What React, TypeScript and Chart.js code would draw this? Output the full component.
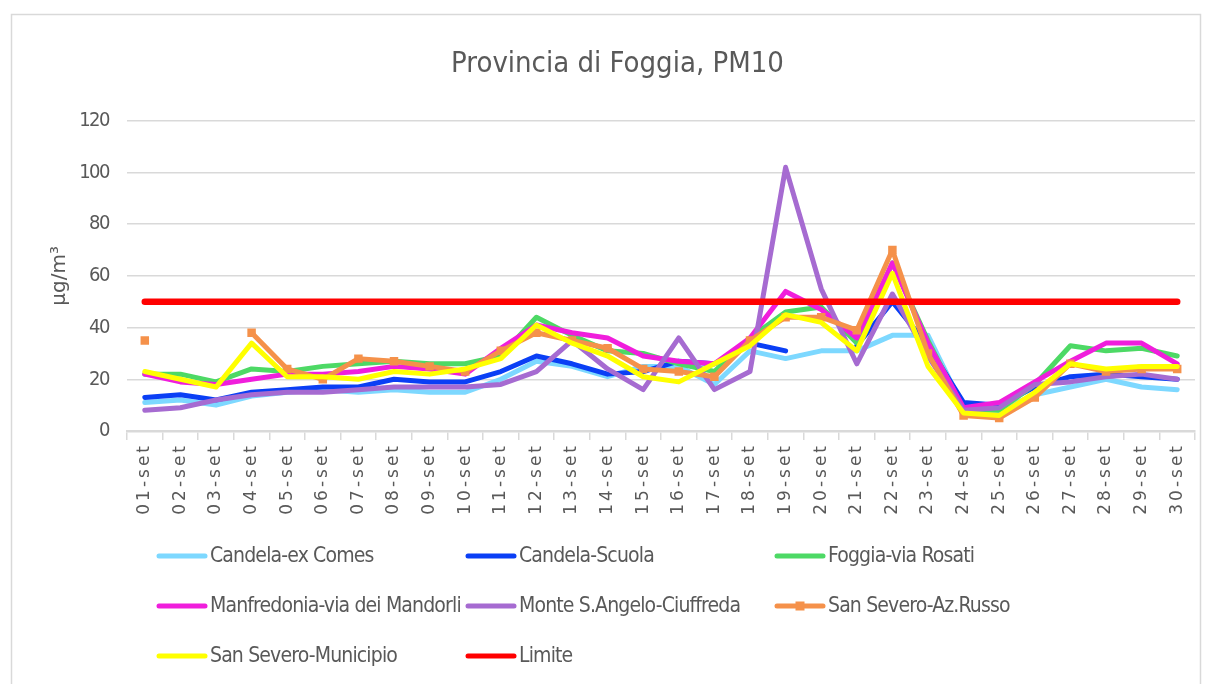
import React, { useEffect, useRef } from "react";
import { Chart, registerables, CategoryScale, LinearScale } from "chart.js";

Chart.register(...registerables);

class SpacedCategoryScale extends CategoryScale {
  static id = "spacedCategory";
  static defaults = CategoryScale.defaults;
  drawLabels(chartArea: any) {
    const ctx = (this as any).ctx as CanvasRenderingContext2D;
    ctx.save();
    (ctx as any).letterSpacing = "3px";
    super.drawLabels(chartArea);
    ctx.restore();
  }
}
class TightLinearScale extends LinearScale {
  static id = "tightLinear";
  static defaults = LinearScale.defaults;
  drawLabels(chartArea: any) {
    const ctx = (this as any).ctx as CanvasRenderingContext2D;
    ctx.save();
    (ctx as any).letterSpacing = "-1.5px";
    super.drawLabels(chartArea);
    ctx.restore();
  }
}
Chart.register(SpacedCategoryScale as any, TightLinearScale as any);

const categories = [
  "01-set", "02-set", "03-set", "04-set", "05-set", "06-set", "07-set", "08-set", "09-set", "10-set",
  "11-set", "12-set", "13-set", "14-set", "15-set", "16-set", "17-set", "18-set", "19-set", "20-set",
  "21-set", "22-set", "23-set", "24-set", "25-set", "26-set", "27-set", "28-set", "29-set", "30-set",
];

const candelaExComes = [11, 12, 10, 13.5, 15, 16, 15, 16, 15, 15, 20, 27, 25, 21, 25, 25, 18, 31, 28, 31, 31, 37, 37, 9, 8, 14, 17, 20, 17, 16];
const candelaScuola = [13, 14, 12, 15, 16, 17, 17, 20, 19, 19, 23, 29, 26, 22, 23, 27, 26, 34, 31, null, 33, 50, 33, 11, 10, 17, 21, 22, 21, 20];
const foggiaRosati = [22, 22, 19, 24, 23, 25, 26, 27, 26, 26, 29, 44, 37, 31, 30, 26, 23, 36, 46, 48, 34, 65, 35, 8, 8, 18, 33, 31, 32, 29];
const manfredoniaMandorli = [22, 19, 18, 20, 22, 22, 23, 25, 24, 22, 32, 41, 38, 36, 29, 27, 26, 36, 54, 47, 36, 65, 34, 9, 11, 19, 27, 34, 34, 26];
const monteSAngelo = [8, 9, 12, 14, 15, 15, 16, 17, 17, 17, 18, 23, 35, 24, 16, 36, 16, 23, 102, 55, 26, 53, 29, 8, 9, 18, 19, 21, 22, 20];
const sanSeveroRusso = [35, null, null, 38, 24, 20, 28, 27, 25, 23, 31, 38, 35, 32, 24, 23, 21, 35, 44, 44, 39, 70, 30, 6, 5, 13, 26, 23, 24, 24];
const sanSeveroMunicipio = [23, 20, 17, 34, 21, 21, 20, 23, 22, 24, 28, 41, 34, 29, 21, 19, 26, 33, 45, 42, 31, 61, 25, 7, 6, 15, 26, 24, 25, 25];
const limite = [50, 50, 50, 50, 50, 50, 50, 50, 50, 50, 50, 50, 50, 50, 50, 50, 50, 50, 50, 50, 50, 50, 50, 50, 50, 50, 50, 50, 50, 50];

const seriesLabels = [
  "Candela-ex Comes",
  "Candela-Scuola",
  "Foggia-via Rosati",
  "Manfredonia-via dei Mandorli",
  "Monte S.Angelo-Ciuffreda",
  "San Severo-Az.Russo",
  "San Severo-Municipio",
  "Limite",
];
const seriesValues = [candelaExComes, candelaScuola, foggiaRosati, manfredoniaMandorli, monteSAngelo, sanSeveroRusso, sanSeveroMunicipio, limite];
const seriesColors = ["#7DD8FF", "#0A3FF5", "#4DD965", "#F01EDC", "#A66BD1", "#F5914A", "#FFFF00", "#FF0000"];

const yTicks = [0, 20, 40, 60, 80, 100, 120];

const NARROW = '"DejaVu Sans Condensed", "Liberation Sans Narrow", "Liberation Sans", sans-serif';
const TEXT = "#595959";

const framePlugin = {
  id: "frame",
  beforeDraw(chart: any) {
    const ctx = chart.ctx as CanvasRenderingContext2D;
    ctx.save();
    ctx.fillStyle = "#ffffff";
    ctx.fillRect(0, 0, chart.width, chart.height);
    ctx.strokeStyle = "#d9d9d9";
    ctx.lineWidth = 1.5;
    ctx.strokeRect(11.5, 14.5, 1189, 700);
    ctx.restore();
  },
};

const legendPlugin = {
  id: "gridLegend",
  afterDraw(chart: any) {
    const ctx = chart.ctx as CanvasRenderingContext2D;
    ctx.save();
    chart.data.datasets.forEach((ds: any, i: number) => {
      const col = i % 3;
      const row = Math.floor(i / 3);
      const x0 = 159 + col * 309;
      const y = 556 + row * 50;
      ctx.strokeStyle = ds.borderColor;
      ctx.lineWidth = 5;
      ctx.lineCap = "round";
      ctx.beginPath();
      ctx.moveTo(x0, y);
      ctx.lineTo(x0 + 46, y);
      ctx.stroke();
      if (ds.pointRadius > 0) {
        ctx.fillStyle = ds.pointBackgroundColor;
        ctx.fillRect(x0 + 23 - 4.5, y - 4.5, 9, 9);
      }
      ctx.fillStyle = TEXT;
      ctx.font = `21px ${NARROW}`;
      (ctx as any).letterSpacing = "-0.85px";
      ctx.textBaseline = "middle";
      ctx.textAlign = "left";
      ctx.fillText(ds.label, x0 + 51, y + 1);
    });
    ctx.restore();
  },
};

export default function App() {
  const ref = useRef<HTMLCanvasElement | null>(null);
  useEffect(() => {
    if (!ref.current) return;
    const n = seriesLabels.length;
    const chart = new Chart(ref.current, {
      type: "line",
      data: {
        labels: categories,
        datasets: seriesLabels.map((label, i) => ({
          label,
          data: seriesValues[i],
          borderColor: seriesColors[i],
          backgroundColor: seriesColors[i],
          pointBackgroundColor: seriesColors[i],
          pointBorderWidth: 0,
          borderWidth: i === n - 1 ? 6.5 : 5,
          borderCapStyle: "round",
          borderJoinStyle: "round",
          pointStyle: "rect",
          pointRadius: label === "San Severo-Az.Russo" ? 6 : 0,
          pointHoverRadius: 0,
          tension: 0,
          fill: false,
          spanGaps: false,
          order: n - 1 - i,
        })) as any,
      },
      options: {
        responsive: false,
        animation: false,
        layout: { padding: { left: 40, right: 11, top: 0, bottom: 0 } },
        plugins: {
          legend: { display: false },
          tooltip: { enabled: false },
          title: {
            display: true,
            text: "Provincia di Foggia, PM10",
            color: TEXT,
            font: { family: NARROW, size: 29, weight: "normal" },
            padding: { top: 47, bottom: 39 },
          },
        },
        scales: {
          x: {
            type: "spacedCategory" as any,
            offset: true,
            afterFit: (s: any) => {
              s.height = 253;
            },
            grid: {
              offset: true,
              drawOnChartArea: false,
              drawTicks: true,
              tickLength: 9,
              color: "#d9d9d9",
              lineWidth: 1.5,
            },
            border: { display: true, color: "#d9d9d9", width: 2.5 },
            ticks: {
              autoSkip: false,
              maxRotation: 90,
              minRotation: 90,
              padding: 3,
              color: TEXT,
              font: { family: '"DejaVu Sans", sans-serif', size: 17 },
            },
          } as any,
          y: {
            type: "tightLinear" as any,
            min: 0,
            max: 120,
            afterFit: (s: any) => {
              s.width = 87;
            },
            afterBuildTicks: (s: any) => {
              s.ticks = yTicks.map((v) => ({ value: v }));
            },
            grid: { color: "#d9d9d9", lineWidth: 1.5, drawTicks: false },
            border: { display: false },
            ticks: {
              padding: 18,
              color: TEXT,
              font: { family: NARROW, size: 20 },
            },
            title: {
              display: true,
              text: "µg/m³",
              color: TEXT,
              font: { family: '"DejaVu Sans", sans-serif', size: 20 },
              padding: { top: 8, bottom: 0 },
            },
          } as any,
        },
      },
      plugins: [framePlugin, legendPlugin],
    });
    return () => chart.destroy();
  }, []);
  return (
    <div style={{ position: "fixed", left: 0, top: 0, width: 1206, height: 684 }}>
      <canvas ref={ref} width={1206} height={684} />
    </div>
  );
}
